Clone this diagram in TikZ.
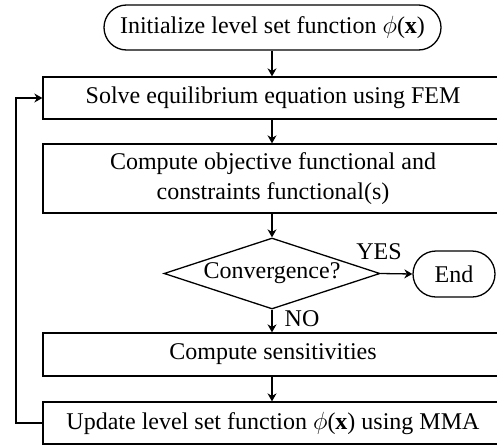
\documentclass[tikz,border=0pt]{standalone}
\usepackage{fontspec}
\setmainfont{Liberation Serif}
\usetikzlibrary{shapes.geometric,shapes.misc,arrows.meta}
\begin{document}
\begin{tikzpicture}[x=1pt,y=-1pt,
  font=\fontsize{24}{30}\selectfont,
  every node/.style={inner sep=0pt},
  box/.style={draw,line width=1.3pt,minimum width=460pt,align=center},
  term/.style={draw,line width=1.3pt,rounded rectangle},
  dec/.style={draw,line width=1.3pt,diamond,shape aspect=3.04,minimum width=216pt,minimum height=71pt},
  conn/.style={line width=1.3pt,-{Stealth[length=8pt,width=9pt]}},
  lbl/.style={font=\fontsize{24}{30}\selectfont}]
\useasboundingbox (0,0) rectangle (497,447);
\node[term,minimum width=337pt,minimum height=45pt] (start) at (272.5,27.5) {Initialize level set function $\phi$(\textbf{x})};
\node[box,minimum height=42pt] (solve) at (273,98) {Solve equilibrium equation using FEM};
\node[box,minimum height=69pt] (comp) at (273,178.5) {Compute objective functional and\\constraints functional(s)};
\node[dec] (conv) at (272,273.5) {Convergence?};
\node[term,minimum width=82pt,minimum height=46pt] (end) at (454,274) {End};
\node[box,minimum height=43pt] (sens) at (273,354.5) {Compute sensitivities};
\node[box,minimum height=42pt] (upd) at (273,423) {Update level set function $\phi$(\textbf{x}) using MMA};
\node[lbl] (yes) at (379,252) {YES};
\node[lbl] (no) at (302,319) {NO};
\coordinate (lb) at (16,423);
\coordinate (lt) at (16,98);
\draw[conn] (start.south -| conv.north) -- (solve.north -| conv.north);
\draw[conn] (solve.south -| conv.north) -- (comp.north -| conv.north);
\draw[conn] (comp.south -| conv.north) -- (conv.north);
\draw[conn] (conv.east) -- (end.west);
\draw[conn] (conv.south) -- (sens.north -| conv.south);
\draw[conn] (sens.south -| conv.south) -- (upd.north -| conv.south);
\draw[conn] (upd.west) -- (lb) -- (lt) -- (solve.west);
\end{tikzpicture}
\end{document}
